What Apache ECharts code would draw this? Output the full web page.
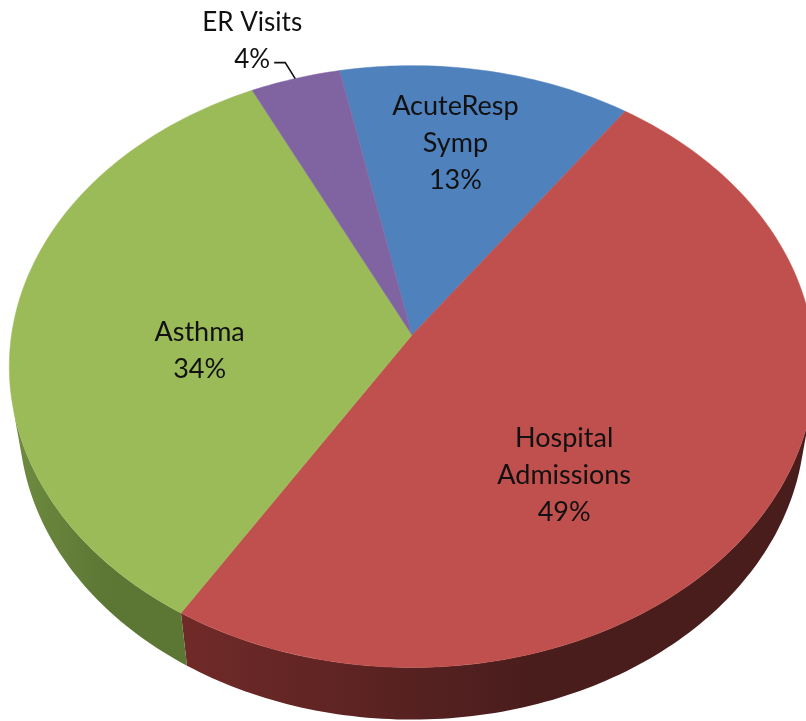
<!DOCTYPE html>
<html>
<head>
<meta charset="utf-8">
<script src="https://cdn.jsdelivr.net/npm/echarts@6/dist/echarts.min.js"></script>
<style>
  html, body { margin: 0; background: #fff; }
  #chart { width: 806px; height: 721px; }
</style>
</head>
<body>
<div id="chart"></div>
<script>
// data
const categories = ['AcuteResp Symp', 'Hospital Admissions', 'Asthma', 'ER Visits']
const values = [13, 49, 34, 4]

// styling (Office 2007 palette)
const topColors = ['#4F81BD', '#C0504D', '#9BBB59', '#8064A2']
// side wall shading, left (lit) -> right (shadow)
const sideColors = [
  ['#2c4a70', '#243d5c'],
  ['#702a28', '#4a1d1d'],
  ['#6e8c40', '#5c7634'],
  ['#4a3a60', '#3c2f4e'],
]
// label placement: fraction along slice, fraction of radius, outside?
const labelPlace = [
  { frac: 0.45, r: 0.70 },
  { frac: 0.60, r: 0.577 },
  { frac: 0.43, r: 0.53 },
  { frac: 0.5, r: 1, outside: true },
]

// 3d view (perspective projection of a tilted disk)
const view = { cx: 412, cy: 335, f: 2555, dist: 6.38, tilt: 48, depth: 0.209, startAngle: -11.5 }
const S = Math.sin(view.tilt * Math.PI / 180)
const C = Math.cos(view.tilt * Math.PI / 180)
// side wall faces the camera where cos(theta) < -1 / (dist * cos(tilt))
const silhouette = Math.acos(-1 / (view.dist * C)) * 180 / Math.PI

const total = values.reduce((a, b) => a + b, 0)

function project(theta, r, y) {
  const a = theta * Math.PI / 180
  const u = r * Math.sin(a)
  const v = r * Math.cos(a)
  const zc = view.dist + v * C - y * S
  const yc = v * S + y * C
  return [view.cx + view.f * u / zc, view.cy - view.f * yc / zc]
}

function arc(t0, t1, y) {
  const pts = []
  const n = Math.max(2, Math.ceil(Math.abs(t1 - t0)))
  for (let k = 0; k <= n; k++) pts.push(project(t0 + (t1 - t0) * k / n, 1, y))
  return pts
}

function renderItem(params, api) {
  const i = params.dataIndex
  let before = 0
  for (let k = 0; k < i; k++) before += values[k]
  const t0 = view.startAngle + before / total * 360
  const t1 = t0 + api.value(0) / total * 360
  const children = []

  // front wall
  const s0 = Math.max(t0, silhouette)
  const s1 = Math.min(t1, 360 - silhouette)
  if (s1 > s0) {
    const pts = arc(s0, s1, 0).concat(arc(s0, s1, -view.depth).reverse())
    children.push({
      type: 'polygon',
      shape: { points: pts },
      style: {
        fill: new echarts.graphic.LinearGradient(0, 0, 1, 0, [
          { offset: 0, color: sideColors[i][0] },
          { offset: 0.55, color: sideColors[i][1] },
          { offset: 1, color: sideColors[i][1] },
        ]),
      },
    })
  }

  // top face
  children.push({
    type: 'polygon',
    shape: { points: [project(0, 0, 0)].concat(arc(t0, t1, 0)) },
    style: { fill: topColors[i], stroke: topColors[i], lineWidth: 0.5 },
  })

  const pct = Math.round(api.value(0) / total * 100) + '%'
  const lp = labelPlace[i]
  const mid = t0 + (t1 - t0) * lp.frac
  if (lp.outside) {
    const p = project(mid, 1, 0)
    const elbow = [p[0] - 10, p[1] - 16]
    const end = [elbow[0] - 11, elbow[1]]
    children.push({
      type: 'polyline',
      shape: { points: [p, elbow, end] },
      style: { stroke: '#111', lineWidth: 1.6, fill: null },
    })
    children.push({
      type: 'text',
      z2: 10,
      style: {
        x: end[0] - 22,
        y: end[1] + 16,
        text: categories[i] + '\n' + pct,
        align: 'center',
        verticalAlign: 'bottom',
        font: '26px Lato',
        lineHeight: 37,
        fill: '#111',
      },
    })
  } else {
    const p = project(mid, lp.r, 0)
    children.push({
      type: 'text',
      z2: 10,
      style: {
        x: p[0],
        y: p[1],
        text: categories[i].split(' ').join('\n') + '\n' + pct,
        align: 'center',
        verticalAlign: 'middle',
        font: '27px Lato',
        lineHeight: 37,
        fill: '#111',
      },
    })
  }
  return { type: 'group', children }
}

const chart = echarts.init(document.getElementById('chart'))
chart.setOption({
  animation: false,
  series: [
    {
      type: 'custom',
      coordinateSystem: 'none',
      data: values.map((v, i) => ({ value: v, name: categories[i] })),
      renderItem,
    },
  ],
})
</script>
</body>
</html>
